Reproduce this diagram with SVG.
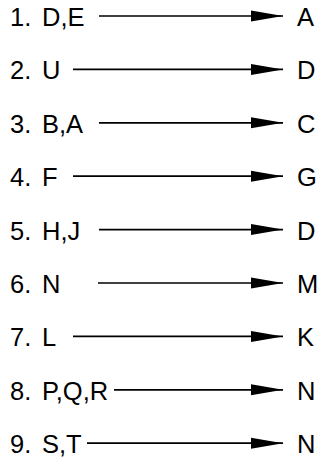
<svg xmlns="http://www.w3.org/2000/svg" width="320" height="457" viewBox="0 0 320 457">
<style>
text{font-family:"Liberation Sans",Arial,sans-serif;font-size:25.5px;fill:#000}
.c line{stroke:#000;stroke-width:1.7}
</style>
<defs>
<marker id="ah" markerUnits="userSpaceOnUse" markerWidth="33" markerHeight="13" refX="32" refY="6" orient="auto">
<path d="M0,0.5 L32,6 L0,11.5 Z" fill="#000"/>
</marker>
</defs>
<rect width="320" height="457" fill="#fff"/>
<g id="n1"><text x="10" y="26">1.</text><text x="42" y="26">D,E</text><text x="297" y="26">A</text></g>
<g id="n2"><text x="10" y="79.4">2.</text><text x="42" y="79.4">U</text><text x="297" y="79.4">D</text></g>
<g id="n3"><text x="10" y="132.8">3.</text><text x="42" y="132.8">B,A</text><text x="297" y="132.8">C</text></g>
<g id="n4"><text x="10" y="186.2">4.</text><text x="42" y="186.2">F</text><text x="297" y="186.2">G</text></g>
<g id="n5"><text x="10" y="239.6">5.</text><text x="42" y="239.6">H,J</text><text x="297" y="239.6">D</text></g>
<g id="n6"><text x="10" y="293">6.</text><text x="42" y="293">N</text><text x="297" y="293">M</text></g>
<g id="n7"><text x="10" y="346.4">7.</text><text x="42" y="346.4">L</text><text x="297" y="346.4">K</text></g>
<g id="n8"><text x="10" y="399.8">8.</text><text x="42" y="399.8">P,Q,R</text><text x="297" y="399.8">N</text></g>
<g id="n9"><text x="10" y="453.2">9.</text><text x="42" y="453.2">S,T</text><text x="297" y="453.2">N</text></g>
<g id="connectors" class="c">
<line x1="99" y1="16" x2="283" y2="16" marker-end="url(#ah)"/>
<line x1="73" y1="69.4" x2="283" y2="69.4" marker-end="url(#ah)"/>
<line x1="99" y1="122.8" x2="283" y2="122.8" marker-end="url(#ah)"/>
<line x1="73" y1="176.2" x2="283" y2="176.2" marker-end="url(#ah)"/>
<line x1="99" y1="229.6" x2="283" y2="229.6" marker-end="url(#ah)"/>
<line x1="98" y1="283" x2="283" y2="283" marker-end="url(#ah)"/>
<line x1="73" y1="336.4" x2="283" y2="336.4" marker-end="url(#ah)"/>
<line x1="114" y1="389.8" x2="283" y2="389.8" marker-end="url(#ah)"/>
<line x1="87" y1="443.2" x2="283" y2="443.2" marker-end="url(#ah)"/>
</g>
</svg>
